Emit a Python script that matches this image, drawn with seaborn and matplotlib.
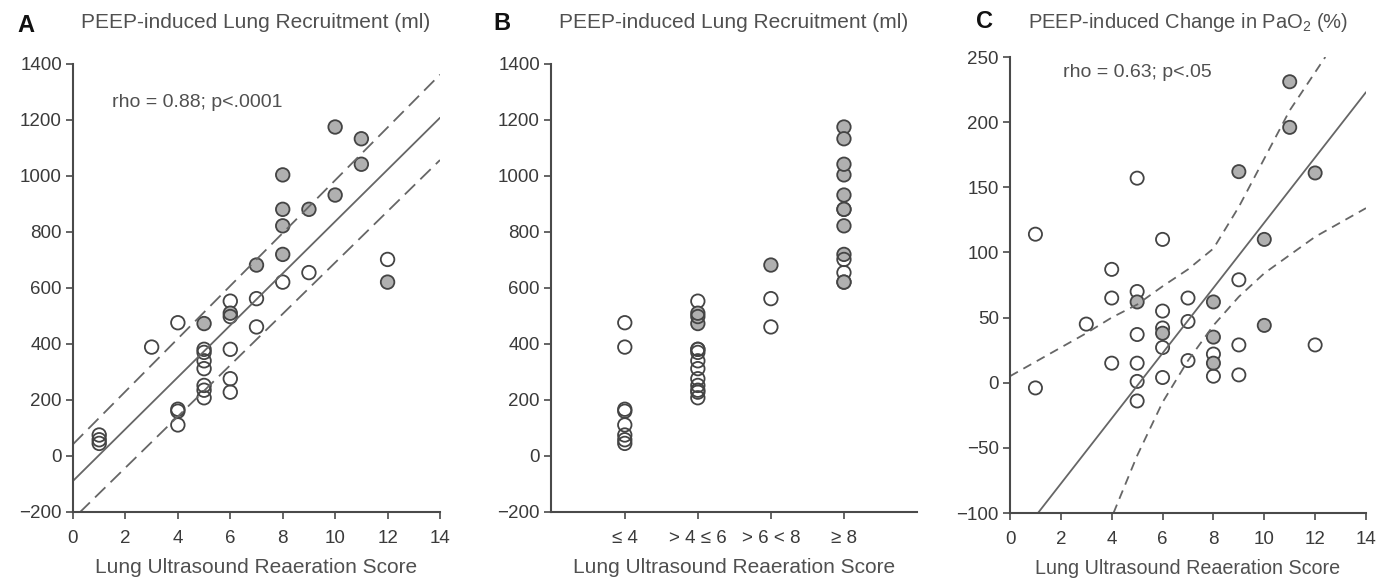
# =============================================================================
# === 1. LIBRARY IMPORTS ===
# =============================================================================
import numpy as np
import pandas as pd
import seaborn as sns
import matplotlib.pyplot as plt

# =============================================================================
# === 2. DATA ===
# =============================================================================
# Panel A / B: lung ultrasound reaeration score vs PEEP-induced recruitment (ml)
score_a = [1, 1, 1, 3, 4, 4, 4, 4,
           5, 5, 5, 5, 5, 5, 5, 5,
           6, 6, 6, 6, 6, 6, 7, 7, 7,
           8, 8, 8, 8, 8, 9, 9, 10, 10, 11, 11, 12, 12]
recruit_a = [75, 58, 45, 389, 476, 167, 160, 111,
             473, 381, 370, 340, 312, 252, 235, 208,
             553, 510, 498, 381, 276, 228, 682, 562, 461,
             1004, 881, 822, 720, 621, 881, 655, 1175, 932, 1133, 1042, 702, 621]
shaded_a = [0, 0, 0, 0, 0, 0, 0, 0,
            1, 0, 0, 0, 0, 0, 0, 0,
            0, 1, 0, 0, 0, 0, 1, 0, 0,
            1, 1, 1, 1, 0, 1, 0, 1, 1, 1, 1, 0, 1]

# regression line and dashed band of panel A (two end points each)
fit_a_x = [0, 14]
fit_a_y = [-89, 1208]
upper_a_x = [0, 14]
upper_a_y = [42, 1362]
lower_a_x = [0.25, 14]
lower_a_y = [-202, 1057]

# Panel B: score classes
class_labels = ["≤ 4", "> 4 ≤ 6", "> 6 < 8", "≥ 8"]
class_edges = [-np.inf, 4, 6, 7.5, np.inf]

# Panel C: score vs PEEP-induced change in PaO2 (%)
score_c = [1, 1, 3, 4, 4, 4,
           5, 5, 5, 5, 5, 5, 5,
           6, 6, 6, 6, 6, 6, 7, 7, 7,
           8, 8, 8, 8, 8, 9, 9, 9, 9, 10, 10, 11, 11, 12, 12]
pao2_c = [114, -4, 45, 87, 65, 15,
          157, 70, 62, 37, 15, 1, -14,
          110, 55, 42, 38, 27, 4, 65, 47, 17,
          62, 35, 22, 15, 5, 162, 79, 29, 6, 110, 44, 231, 196, 161, 29]
shaded_c = [0, 0, 0, 0, 0, 0,
            0, 0, 1, 0, 0, 0, 0,
            0, 0, 0, 1, 0, 0, 0, 0, 0,
            1, 1, 0, 1, 0, 1, 0, 0, 0, 1, 1, 1, 1, 1, 0]

# regression line and curved confidence band of panel C
fit_c_x = [1.1, 14]
fit_c_y = [-100, 223]
upper_c_x = [0, 3, 4, 5, 6, 7, 8, 9, 10, 11, 12.4]
upper_c_y = [5, 38, 50, 60, 74, 87, 103, 135, 172, 209, 250]
lower_c_x = [4.07, 5, 6, 7, 8, 9, 10, 11, 12, 14]
lower_c_y = [-100, -56, -15, 17, 44, 66, 84, 98, 112, 134]

# --- Build data frames ---
df_a = pd.DataFrame({"score": score_a, "recruit": recruit_a,
                     "fill": np.where(np.array(shaded_a) == 1, "shaded", "open")})
df_a["score_class"] = pd.cut(df_a["score"], bins=class_edges, labels=class_labels)
df_c = pd.DataFrame({"score": score_c, "pao2": pao2_c,
                     "fill": np.where(np.array(shaded_c) == 1, "shaded", "open")})

# =============================================================================
# === 3. STYLE ===
# =============================================================================
sns.set_theme(style="ticks")
plt.rcParams["font.family"] = ["Liberation Sans", "DejaVu Sans"]
plt.rcParams["mathtext.fontset"] = "custom"
plt.rcParams["mathtext.rm"] = "Liberation Sans"

axis_grey = "#4a4a4a"
text_grey = "#505050"
line_grey = "#666666"
point_palette = {"open": (1, 1, 1, 0), "shaded": "#b0b0b0"}
point_kws = dict(edgecolor="#444444", linewidth=1.3, legend=False)

fig = plt.figure(figsize=(13.76, 5.81), dpi=100)
W, H = 1376, 581


def add_panel(left, right, top, bottom):
    return fig.add_axes([left / W, 1 - bottom / H, (right - left) / W, (bottom - top) / H])


def style_axis(ax):
    sns.despine(ax=ax)
    for side in ["left", "bottom"]:
        ax.spines[side].set_color(axis_grey)
        ax.spines[side].set_linewidth(1.5)
    ax.tick_params(direction="out", length=5, width=1.2, color=axis_grey,
                   labelcolor="#3a3a3a", labelsize=13.5)
    ax.tick_params(axis="y", pad=3)
    ax.tick_params(axis="x", pad=8)
    ax.set_xlabel("Lung Ultrasound Reaeration Score", fontsize=15, color=text_grey, labelpad=8)
    ax.set_ylabel("")


ax_a = add_panel(73, 440, 64, 512)
ax_b = add_panel(551, 917, 64, 512)
ax_c = add_panel(1010, 1366, 57, 513)

# =============================================================================
# === 4. PANEL A ===
# =============================================================================
sns.lineplot(x=fit_a_x, y=fit_a_y, color=line_grey, linewidth=1.3, ax=ax_a)
sns.lineplot(x=upper_a_x, y=upper_a_y, color=line_grey, linewidth=1.3,
             linestyle=(0, (8, 4)), ax=ax_a)
sns.lineplot(x=lower_a_x, y=lower_a_y, color=line_grey, linewidth=1.3,
             linestyle=(0, (8, 4)), ax=ax_a)
sns.scatterplot(data=df_a, x="score", y="recruit", hue="fill", palette=point_palette,
                s=95, ax=ax_a, **point_kws)
ax_a.set_xlim(0, 14)
ax_a.set_ylim(-200, 1400)
ax_a.set_xticks(range(0, 15, 2))
ax_a.set_yticks(range(-200, 1401, 200))
ax_a.text(1.5, 1262, "rho = 0.88; p<.0001", fontsize=14, color=text_grey, va="center")
style_axis(ax_a)

# =============================================================================
# === 5. PANEL B ===
# =============================================================================
sns.stripplot(data=df_a, x="score_class", y="recruit", hue="fill", order=class_labels,
              palette=point_palette, jitter=False, size=9.7, ax=ax_b, **point_kws)
ax_b.set_xlim(-1.01, 4.0)
ax_b.set_ylim(-200, 1400)
ax_b.set_yticks(range(-200, 1401, 200))
style_axis(ax_b)

# =============================================================================
# === 6. PANEL C ===
# =============================================================================
sns.lineplot(x=fit_c_x, y=fit_c_y, color=line_grey, linewidth=1.3, ax=ax_c)
sns.lineplot(x=upper_c_x, y=upper_c_y, color=line_grey, linewidth=1.3,
             linestyle=(0, (5, 3.5)), ax=ax_c)
sns.lineplot(x=lower_c_x, y=lower_c_y, color=line_grey, linewidth=1.3,
             linestyle=(0, (5, 3.5)), ax=ax_c)
sns.scatterplot(data=df_c, x="score", y="pao2", hue="fill", palette=point_palette,
                s=90, ax=ax_c, **point_kws)
ax_c.set_xlim(0, 14)
ax_c.set_ylim(-100, 250)
ax_c.set_xticks(range(0, 15, 2))
ax_c.set_yticks(range(-100, 251, 50))
ax_c.text(2.1, 238, "rho = 0.63; p<.05", fontsize=14, color=text_grey, va="center")
style_axis(ax_c)
ax_c.xaxis.label.set_fontsize(14.2)

# =============================================================================
# === 7. TITLES & PANEL LETTERS ===
# =============================================================================
titles = ["PEEP-induced Lung Recruitment (ml)", "PEEP-induced Lung Recruitment (ml)",
          "PEEP-induced Change in PaO$_2$ (%)"]
title_x = [256, 734, 1188]
title_size = [15, 15, 14.5]
letters = ["A", "B", "C"]
letter_x = [26, 502, 984]
letter_y = [25, 24, 22]
for t, tx, ts, l, lx, ly in zip(titles, title_x, title_size, letters, letter_x, letter_y):
    fig.text(tx / W, 1 - 22 / H, t, fontsize=ts, color=text_grey, ha="center", va="center")
    fig.text(lx / W, 1 - ly / H, l, fontsize=17, fontweight="bold", color="#111111",
             ha="center", va="center")

plt.savefig("out.png", dpi=100)
